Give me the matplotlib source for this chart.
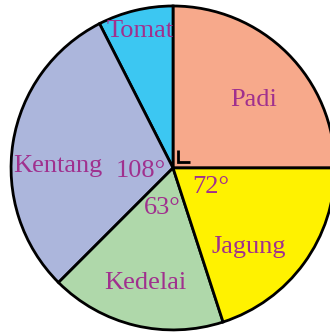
import matplotlib
matplotlib.use('Agg')
import matplotlib.pyplot as plt

# Land use per crop, in degrees of the circle
crops = ['Padi', 'Tomat', 'Kentang', 'Kedelai', 'Jagung']
degrees = [90, 27, 108, 63, 72]
colors = ['#F7A98B', '#3CC7F2', '#ACB6DC', '#AFD8AA', '#FFF200']
angle_labels = {'Kentang': '108°', 'Kedelai': '63°', 'Jagung': '72°'}

text_color = '#A0308E'

fig = plt.figure(figsize=(3.30, 3.33), dpi=100)
ax = fig.add_axes([0, 0, 1, 1])

wedges, _ = ax.pie(degrees, colors=colors, startangle=0, counterclock=True,
                   radius=1.0, center=(0, 0),
                   wedgeprops=dict(edgecolor='black', linewidth=2.0))

ax.set_xlim(-1.068, 0.969)
ax.set_ylim(-1.019, 1.037)
ax.set_aspect('equal')
ax.axis('off')

font = dict(family='Liberation Serif', fontsize=19, color=text_color,
            ha='center', va='center')

# Crop names inside the slices
name_pos = {
    'Padi': (0.50, 0.42),
    'Tomat': (-0.205, 0.845),
    'Kentang': (-0.71, 0.01),
    'Kedelai': (-0.17, -0.71),
    'Jagung': (0.47, -0.49),
}
for name in crops:
    x, y = name_pos[name]
    ax.text(x, y, name, **font)

# Central angle labels
angle_pos = {'Kentang': (-0.20, -0.02), 'Jagung': (0.23, -0.115), 'Kedelai': (-0.065, -0.25)}
for name, lab in angle_labels.items():
    x, y = angle_pos[name]
    ax.text(x, y, lab, **font)

# Right-angle mark for the Padi quarter
ax.plot([0.032, 0.032, 0.105], [0.112, 0.038, 0.038], color='black',
        linewidth=2.0, solid_capstyle='butt', solid_joinstyle='miter')

fig.savefig('out.png', dpi=100)
